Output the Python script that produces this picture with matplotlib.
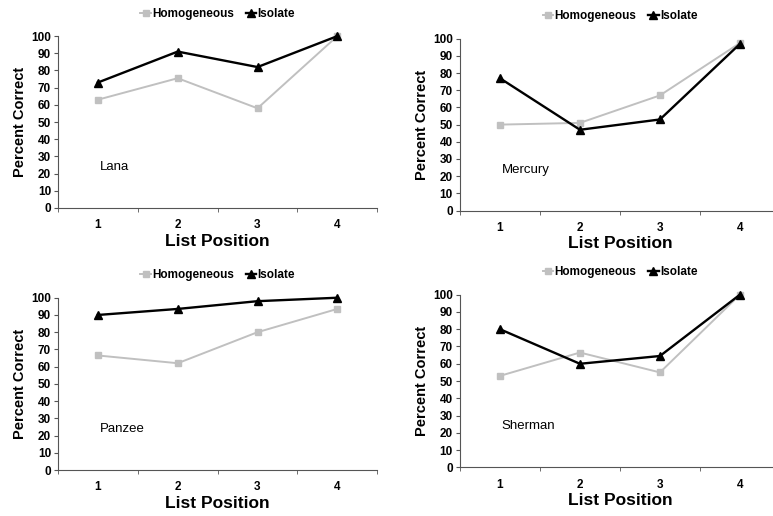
import matplotlib.pyplot as plt

plt.rcParams['font.family'] = ['Liberation Sans', 'DejaVu Sans']

# ---------- Dados ----------
positions = [1, 2, 3, 4]
subjects = ['Lana', 'Mercury', 'Panzee', 'Sherman']

homogeneous = {
    'Lana':    [63, 75.5, 58, 100],
    'Mercury': [50, 51, 67, 97.5],
    'Panzee':  [66.5, 62, 80, 93.5],
    'Sherman': [53, 66.5, 55, 100],
}
isolate = {
    'Lana':    [73, 91, 82, 100],
    'Mercury': [77, 47, 53, 97],
    'Panzee':  [90, 93.5, 98, 100],
    'Sherman': [80, 60, 64.5, 100],
}

yticks = list(range(0, 101, 10))

# posição dos eixos em fração da figura [left, bottom, width, height]
axes_pos = {
    'Lana':    [0.075, 0.597, 0.413, 0.333],
    'Mercury': [0.595, 0.592, 0.414, 0.333],
    'Panzee':  [0.075, 0.089, 0.413, 0.334],
    'Sherman': [0.595, 0.094, 0.414, 0.335],
}

# ---------- Plotagem ----------
fig = plt.figure(figsize=(7.73, 5.16), dpi=100)

for name in subjects:
    ax = fig.add_axes(axes_pos[name])
    ax.plot(positions, homogeneous[name], color='#c0c0c0', marker='s',
            markersize=5, linewidth=1.4, label='Homogeneous', clip_on=False)
    ax.plot(positions, isolate[name], color='black', marker='^',
            markersize=5.5, linewidth=1.7, label='Isolate', clip_on=False)

    ax.set_xlim(0.5, 4.5)
    ax.set_ylim(0, 100)
    ax.set_yticks(yticks)
    ax.set_xticks(positions)
    ax.set_xticks([0.5, 1.5, 2.5, 3.5, 4.5], minor=True)
    ax.tick_params(axis='x', which='major', length=0, pad=8, labelsize=8.5)
    ax.tick_params(axis='x', which='minor', length=3, direction='out', color='#555555')
    ax.tick_params(axis='y', length=3, direction='out', pad=2, labelsize=8.5,
                   color='#555555')
    for lab in ax.get_xticklabels() + ax.get_yticklabels():
        lab.set_fontweight('bold')

    for s in ['top', 'right']:
        ax.spines[s].set_visible(False)
    ax.spines['left'].set_color('#555555')
    ax.spines['bottom'].set_color('#555555')

    ax.set_ylabel('Percent Correct', fontsize=10.5, fontweight='bold', labelpad=3)
    ax.set_xlabel('List Position', fontsize=12.5, fontweight='bold', labelpad=2)
    ax.text(0.13, 0.22, name, transform=ax.transAxes, fontsize=9.5)

    ax.legend(loc='lower center', bbox_to_anchor=(0.5, 1.06), ncol=2,
              frameon=False, handlelength=0.9, handletextpad=0.1,
              columnspacing=1.0, borderpad=0,
              prop={'size': 8.5, 'weight': 'bold'})

plt.savefig('out.png', dpi=100)
